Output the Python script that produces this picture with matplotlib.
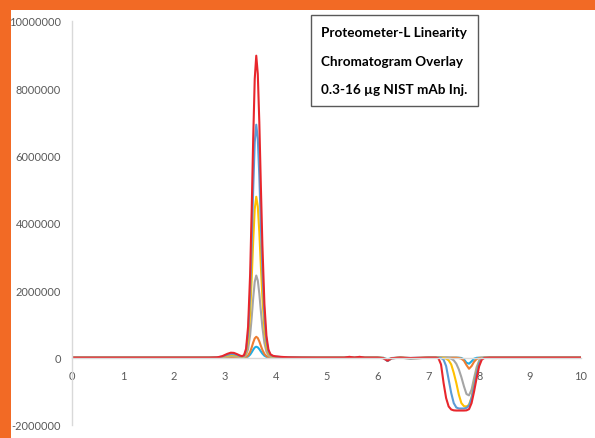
import matplotlib
matplotlib.use("Agg")
import matplotlib.pyplot as plt
from matplotlib.patches import Rectangle

# ---------------- data ----------------
time_min = [0, 1, 2, 2.5, 2.7, 2.85, 2.95, 3.05, 3.12, 3.18, 3.24,
            3.3, 3.34, 3.38, 3.42, 3.46, 3.5, 3.53, 3.56, 3.59,
            3.62, 3.65, 3.68, 3.71, 3.74, 3.78, 3.82, 3.86, 3.9, 3.95,
            4.0, 4.1, 4.25, 4.5, 4.8, 5.1, 5.35, 5.45, 5.55, 5.65, 5.75, 6.0, 6.12, 6.2, 6.28, 6.45, 6.65, 6.8, 7.0,
            7.15, 7.2, 7.25, 7.3, 7.35, 7.4, 7.45, 7.5, 7.55, 7.6, 7.65, 7.7, 7.75, 7.8, 7.85, 7.9, 7.95, 8.0, 8.05, 8.1,
            8.2, 8.4, 8.6, 9.0, 10.0]

inj_0_3ug = [0, 0, 0, 0, 0, 500, 2900, 7500, 9900, 9500, 7000,
             4100, 2500, 3400, 10000, 33900, 90600, 159000, 237000, 301000,
             326000, 306000, 254000, 186000, 122000, 57500, 23300, 8500, 3400, 1800,
             1500, 1000, 500, 0, 0, 0, 0, 3000, 0, 3000, 0, 0, -5000, -50000, -10000, 0, -10000, -5000, 0,
             0, 0, 0, 0, 0, 0, 0, 0, 0, 0, -10000, -50000, -150000, -180000, -110000, -30000, -5000, 0, 0, 0,
             0, 0, 0, 0, 0]

inj_1ug = [0, 0, 0, 0, 20, 1100, 5800, 15000, 19700, 19000, 14000,
           8200, 5000, 6400, 19000, 64600, 172200, 302000, 450000, 572000,
           620000, 583000, 484000, 354000, 233000, 110000, 44600, 16500, 6700, 3500,
           3000, 2000, 1000, 0, 0, 0, 0, 5000, 0, 5000, 0, 0, -10000, -100000, -15000, 0, -25000, -15000, 0,
           0, 0, 0, 0, 0, 0, 0, 0, 0, -10000, -30000, -90000, -220000, -330000, -250000, -120000, -40000, -10000, 0, 0,
           0, 0, 0, 0, 0]

inj_4ug = [0, 0, 0, 0, 50, 2700, 14500, 38000, 49000, 47000, 35000,
           20600, 14800, 21400, 72800, 252500, 678600, 1188000, 1771000, 2252000,
           2440000, 2294000, 1903000, 1393000, 916000, 435000, 176000, 64000, 26700, 14700,
           11000, 7000, 3000, 800, 0, 0, 0, 6000, 0, 6000, 0, 0, -10000, -90000, -15000, 0, -10000, -5000, 0,
           0, 0, 0, 0, 0, -10000, -30000, -80000, -180000, -350000, -580000, -850000, -1080000, -1120000, -950000, -600000, -280000, -80000, -15000, 0,
           0, 0, 0, 0, 0]

inj_8ug = [0, 0, 0, 0, 80, 4400, 23000, 60000, 79000, 76000, 57000,
           33500, 24500, 39500, 141000, 494000, 1330000, 2328000, 3470000, 4412000,
           4780000, 4493000, 3728000, 2729000, 1796000, 853000, 344000, 125000, 53000, 29400,
           21000, 13000, 5000, 1500, 0, 0, 0, 10000, 0, 10000, 0, 0, -10000, -80000, -15000, 0, -15000, -10000, 0,
           0, 0, 0, -10000, -30000, -80000, -200000, -450000, -750000, -1100000, -1350000, -1440000, -1450000, -1400000, -1180000, -800000, -400000, -130000, -25000, 0,
           0, 0, 0, 0, 0]

inj_12ug = [0, 0, 0, 0, 100, 6000, 32000, 83000, 108000, 104000, 78000,
            45700, 34000, 56500, 204000, 716000, 1925000, 3370000, 5024000, 6387000,
            6920000, 6505000, 5398000, 3951000, 2599000, 1234000, 498000, 182000, 76000, 42500,
            31000, 19000, 8000, 2500, 0, 0, 0, 15000, 0, 15000, 0, 0, -15000, -100000, -20000, 0, -25000, -15000, 0,
            0, 0, -10000, -60000, -250000, -650000, -1050000, -1350000, -1480000, -1510000, -1510000, -1510000, -1490000, -1420000, -1200000, -850000, -450000, -150000, -30000, 0,
            0, 0, 0, 0, 0]

inj_16ug = [0, 0, 0, 0, 200, 8000, 43000, 113000, 148000, 142000, 106000,
            63000, 45000, 74000, 266000, 928000, 2496000, 4368000, 6512000, 8279000,
            8970000, 8432000, 6997000, 5122000, 3370000, 1600000, 645000, 236000, 99000, 54500,
            40000, 25000, 10000, 3000, 0, 0, 0, 25000, 0, 25000, 0, 0, -15000, -90000, -15000, 0, -10000, -5000, 0,
            0, -20000, -200000, -750000, -1200000, -1450000, -1540000, -1565000, -1570000, -1570000, -1570000, -1570000, -1565000, -1530000, -1350000, -1000000, -600000, -250000, -60000, -10000,
            0, 0, 0, 0, 0]

series = [inj_0_3ug, inj_1ug, inj_4ug, inj_8ug, inj_12ug, inj_16ug]
series_colors = ['#1CADE4', '#ED7D31', '#A5A5A5', '#FFC000', '#5B9BD5', '#E8262C']

x_ticks = [0, 1, 2, 3, 4, 5, 6, 7, 8, 9, 10]
y_ticks = [-2000000, 0, 2000000, 4000000, 6000000, 8000000, 10000000]
y_tick_labels = ['-2000000', '0', '2000000', '4000000', '6000000', '8000000', '10000000']

title_lines = ['Proteometer-L Linearity', 'Chromatogram Overlay', '0.3-16 µg NIST mAb Inj.']

# ---------------- figure ----------------
W, H = 595, 439
fig = plt.figure(figsize=(W / 100, H / 100), dpi=100)
fig.patch.set_facecolor('#F26A25')
fig.add_artist(Rectangle((11 / W, 0), 1 - 11 / W, 1 - 11 / H, transform=fig.transFigure,
                         facecolor='white', edgecolor='none', zorder=-5))

ax = fig.add_axes([72 / W, 13 / H, 509 / W, 404 / H])
ax.set_facecolor('none')

for ys, c in zip(series, series_colors):
    ax.plot(time_min, ys, color=c, lw=1.5, solid_joinstyle='round')

ax.set_xlim(0, 10)
ax.set_ylim(-2000000, 10000000)
ax.set_xticks(x_ticks)
ax.set_xticklabels([str(v) for v in x_ticks])
ax.set_yticks(y_ticks)
ax.set_yticklabels(y_tick_labels)

for s in ['top', 'right']:
    ax.spines[s].set_visible(False)
ax.spines['left'].set_color('#D9D9D9')
ax.spines['left'].set_linewidth(1.0)
ax.spines['bottom'].set_position(('data', 0))
ax.spines['bottom'].set_color('#D9D9D9')
ax.spines['bottom'].set_linewidth(1.0)

ax.tick_params(axis='both', length=0, labelsize=7.9, labelcolor='#595959')
ax.tick_params(axis='x', pad=9)
ax.tick_params(axis='y', pad=8)
for lab in ax.get_xticklabels() + ax.get_yticklabels():
    lab.set_fontfamily('Lato')

# text box
fig.add_artist(Rectangle((311 / W, 1 - 107 / H), 167 / W, 91 / H, transform=fig.transFigure,
                         facecolor='white', edgecolor='#595959', lw=1.0, zorder=5))
for i, line in enumerate(title_lines):
    yc = [32.7, 61.7, 90.0][i]
    fig.text(321 / W, 1 - yc / H, line, ha='left', va='center', fontsize=9.7,
             fontweight='bold', family='Lato', color='black', zorder=6)

fig.savefig('out.png', dpi=100, facecolor=fig.get_facecolor())
